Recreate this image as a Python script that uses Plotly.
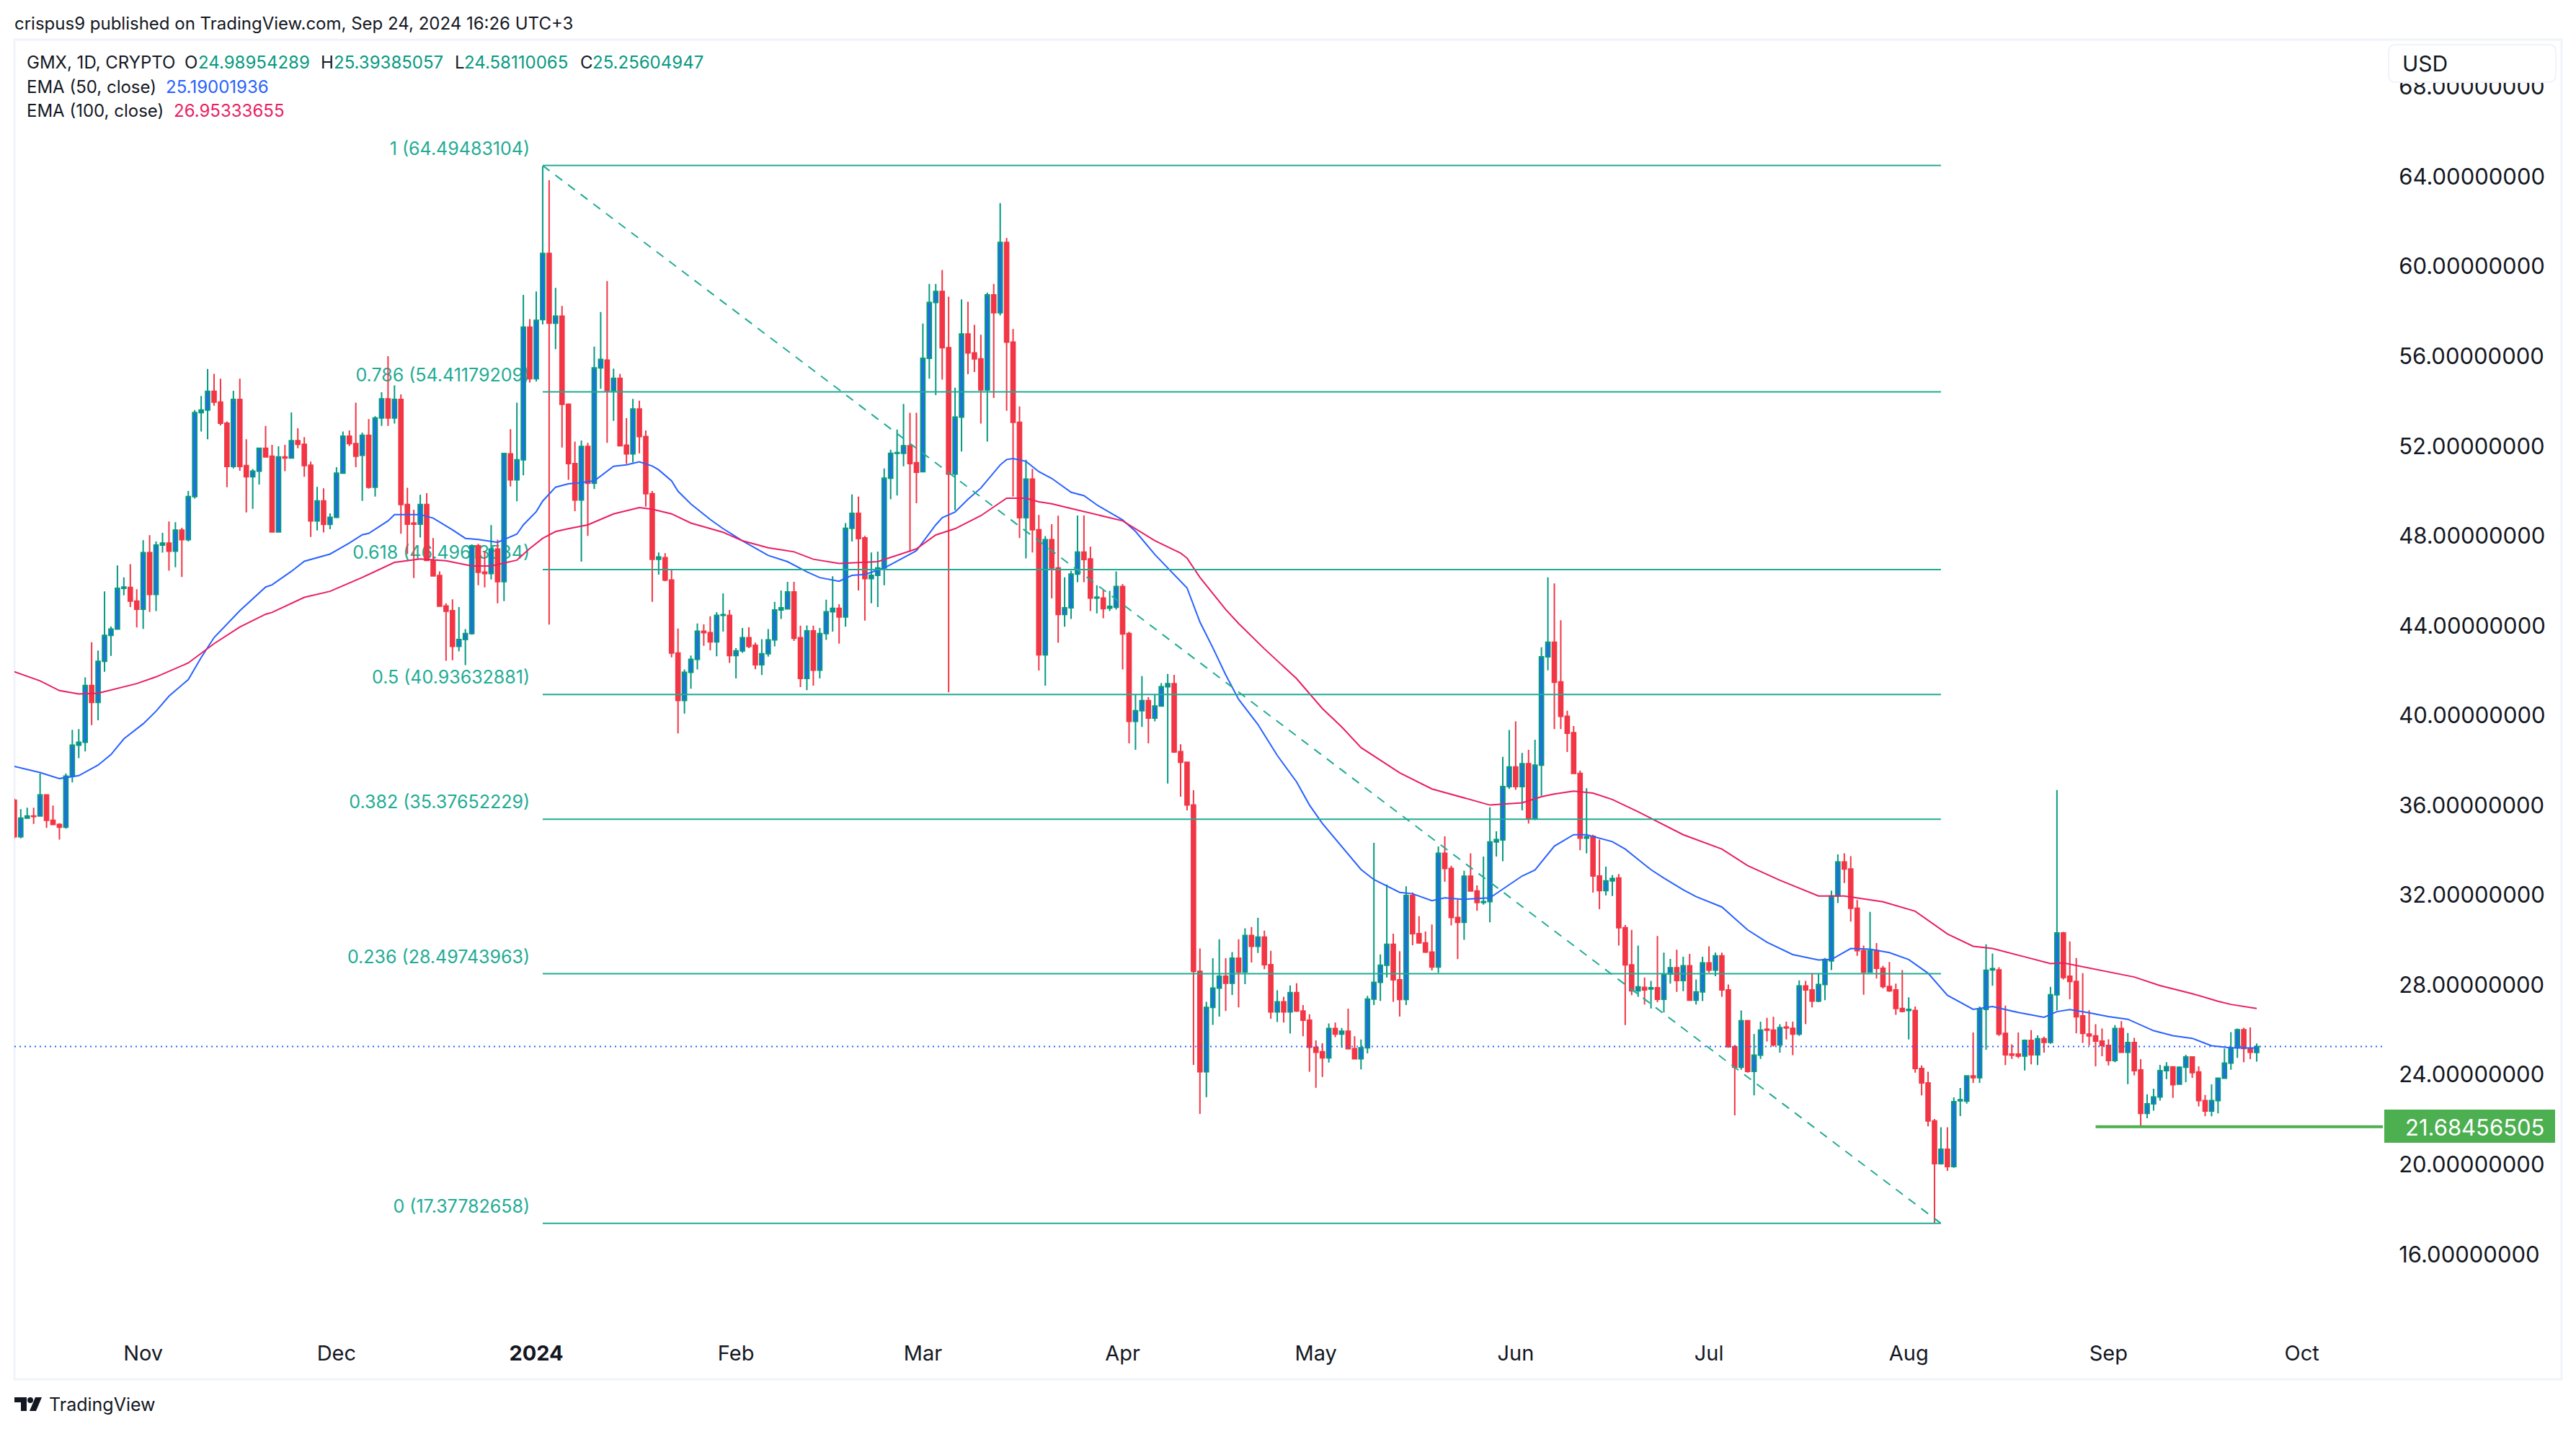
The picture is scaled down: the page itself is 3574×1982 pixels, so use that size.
import pandas as pd
import plotly.graph_objects as go

# Ukuran halaman dan area chart (piksel)
W, H = 3574, 1982
PANE_L, PANE_R, PANE_T, PANE_B = 20, 3306, 55, 1840
FONT = "Inter"
INK = "#131722"

# Candles, one per day from 2023-10-12 to 2024-09-24
first_day = "2023-10-12"
open_ = [
    36.22, 34.60, 35.43, 35.52, 35.52, 36.46, 35.33, 35.15, 35.03, 37.30,
    38.68, 38.81, 41.34, 40.58, 42.41, 43.57, 43.85, 45.66, 45.70, 45.09,
    44.73, 47.25, 45.39, 47.59, 47.68, 47.32, 48.26, 47.83, 49.75, 53.49,
    53.60, 54.44, 53.96, 53.02, 51.09, 54.08, 51.13, 50.63, 50.88, 51.90,
    51.55, 48.18, 51.52, 51.47, 52.24, 52.08, 51.15, 48.67, 49.56, 48.51,
    48.83, 50.79, 52.44, 52.11, 51.59, 52.48, 50.17, 53.25, 54.10, 53.25,
    54.08, 49.40, 48.57, 48.52, 49.40, 46.91, 46.23, 44.88, 44.67, 43.08,
    43.38, 43.65, 47.56, 46.39, 46.32, 47.41, 45.96, 51.65, 50.50, 51.39,
    57.30, 55.00, 57.63, 60.58, 57.47, 57.79, 53.86, 51.22, 49.60, 51.98,
    50.34, 55.48, 55.83, 54.47, 55.02, 52.04, 51.65, 53.65, 52.42, 49.88,
    46.96, 47.03, 46.03, 42.78, 40.67, 41.92, 42.50, 43.75, 43.69, 43.28,
    44.46, 44.46, 42.67, 42.88, 43.46, 43.13, 42.26, 42.75, 43.37, 44.70,
    44.75, 45.50, 43.46, 41.65, 43.77, 42.02, 43.65, 44.62, 44.77, 44.39,
    48.34, 49.00, 47.91, 46.10, 46.24, 46.57, 50.57, 51.68, 51.68, 52.01,
    51.26, 50.86, 55.91, 58.40, 58.89, 56.38, 50.75, 53.29, 56.99, 56.15,
    55.88, 54.50, 58.73, 57.94, 61.07, 56.63, 53.06, 48.81, 50.53, 48.27,
    42.70, 47.83, 46.57, 44.50, 44.80, 46.30, 47.28, 46.97, 45.23, 45.23,
    44.78, 44.82, 45.74, 43.65, 39.74, 40.21, 40.66, 39.88, 40.42, 41.28,
    41.42, 38.39, 37.92, 36.01, 28.60, 24.13, 27.00, 27.86, 28.39, 28.07,
    29.19, 28.58, 30.20, 29.72, 30.13, 28.90, 26.80, 27.25, 26.80, 27.66,
    26.84, 26.43, 25.22, 25.02, 24.75, 26.06, 25.81, 25.94, 25.16, 24.71,
    25.20, 27.37, 28.11, 28.88, 29.81, 28.23, 27.35, 31.98, 30.28, 29.87,
    29.46, 28.80, 33.86, 33.19, 31.00, 30.79, 32.84, 32.18, 31.67, 31.71,
    34.37, 34.46, 36.83, 37.71, 36.83, 37.85, 35.40, 37.79, 42.61, 43.26,
    41.50, 39.96, 39.23, 37.42, 34.54, 34.62, 32.85, 32.20, 32.63, 32.76,
    30.55, 28.89, 27.74, 27.89, 27.82, 27.87, 27.36, 28.48, 28.76, 28.19,
    28.85, 27.32, 27.69, 28.98, 28.66, 29.29, 27.78, 25.25, 24.33, 26.40,
    24.15, 24.87, 26.03, 25.99, 25.33, 26.12, 26.07, 25.81, 27.95, 27.78,
    27.28, 28.02, 29.07, 31.96, 33.48, 33.16, 31.41, 29.53, 28.57, 29.53,
    28.74, 27.93, 27.78, 26.95, 26.86, 26.86, 24.28, 23.63, 21.94, 20.04,
    20.68, 19.91, 22.84, 22.82, 23.95, 23.87, 26.91, 28.67, 28.67, 25.84,
    24.92, 24.92, 24.83, 25.53, 24.89, 25.60, 25.44, 27.56, 30.31, 28.39,
    28.15, 26.62, 25.81, 25.73, 25.50, 25.30, 24.63, 26.06, 25.00, 25.43,
    24.21, 22.28, 22.70, 23.01, 24.18, 24.35, 23.58, 24.33, 24.79, 24.12,
    22.85, 22.38, 22.85, 23.84, 24.52, 25.20, 26.00, 25.17, 24.99,
]
high = [
    36.30, 35.83, 35.89, 35.89, 37.42, 36.46, 35.99, 35.20, 37.42, 39.36,
    39.39, 41.70, 43.26, 42.89, 45.53, 43.96, 46.68, 46.15, 46.74, 45.62,
    47.81, 48.03, 47.75, 48.14, 48.64, 48.61, 48.36, 50.00, 53.60, 54.23,
    55.43, 55.22, 55.00, 53.10, 54.46, 55.00, 52.30, 50.98, 51.90, 52.90,
    52.05, 51.99, 52.05, 53.50, 52.79, 52.40, 51.31, 50.18, 50.12, 49.00,
    51.06, 52.65, 52.70, 53.93, 52.60, 53.20, 53.33, 54.40, 56.00, 54.70,
    54.30, 50.14, 49.16, 49.83, 49.90, 47.90, 46.42, 45.00, 45.17, 44.83,
    43.85, 47.62, 47.65, 47.30, 48.48, 47.83, 51.70, 52.75, 53.93, 58.73,
    57.66, 58.89, 64.46, 63.84, 59.05, 58.24, 53.90, 52.20, 52.25, 52.14,
    56.43, 57.97, 59.35, 55.45, 55.22, 53.24, 54.10, 54.02, 52.70, 50.00,
    47.26, 47.23, 46.50, 43.87, 42.05, 42.67, 44.10, 44.06, 44.42, 44.60,
    45.44, 44.70, 43.00, 43.90, 43.93, 43.25, 43.40, 43.85, 45.06, 45.57,
    45.95, 45.95, 44.00, 44.01, 44.00, 43.90, 45.16, 46.20, 44.96, 48.57,
    49.85, 49.75, 48.00, 47.26, 47.30, 51.00, 51.84, 52.74, 53.88, 53.48,
    53.48, 57.46, 59.22, 59.22, 59.84, 58.65, 54.60, 58.53, 58.43, 57.40,
    56.96, 58.84, 59.22, 62.82, 61.27, 57.22, 53.76, 51.39, 50.99, 48.93,
    47.99, 48.52, 48.90, 46.15, 46.44, 48.91, 48.91, 47.52, 45.80, 45.60,
    45.55, 46.42, 45.86, 43.73, 40.93, 41.75, 40.82, 40.93, 41.44, 41.85,
    41.81, 38.72, 37.92, 36.67, 29.62, 27.25, 29.19, 30.03, 29.19, 29.46,
    30.03, 30.52, 30.58, 30.99, 30.42, 29.52, 27.76, 27.47, 27.98, 28.07,
    27.10, 26.69, 25.53, 25.40, 26.28, 26.32, 26.08, 26.94, 25.71, 25.57,
    27.51, 34.33, 29.36, 32.47, 30.28, 29.50, 32.39, 32.12, 31.06, 30.38,
    30.69, 34.17, 34.62, 33.31, 31.81, 33.08, 33.86, 32.43, 33.72, 35.91,
    34.84, 38.16, 39.35, 39.74, 38.33, 38.47, 38.92, 43.04, 46.15, 45.88,
    44.24, 40.21, 39.53, 37.55, 36.76, 34.69, 34.47, 33.27, 32.89, 32.94,
    30.67, 30.45, 29.75, 28.33, 28.18, 30.18, 29.44, 29.16, 29.57, 29.25,
    29.38, 28.24, 29.25, 29.72, 29.44, 29.44, 28.02, 25.33, 26.86, 26.40,
    25.81, 26.36, 26.53, 26.58, 26.25, 26.36, 26.36, 28.20, 28.18, 28.52,
    28.52, 29.20, 32.20, 33.81, 33.86, 33.73, 31.78, 29.75, 31.25, 29.86,
    28.85, 29.02, 28.06, 28.66, 27.45, 27.04, 24.41, 24.13, 22.03, 21.66,
    21.66, 22.99, 23.41, 23.96, 25.88, 27.04, 29.81, 29.40, 28.79, 27.08,
    25.35, 25.88, 25.57, 25.99, 25.75, 25.70, 27.91, 36.68, 30.36, 29.94,
    29.20, 28.52, 26.87, 26.25, 26.06, 25.58, 26.21, 26.39, 25.86, 25.64,
    24.69, 23.13, 23.38, 24.44, 24.56, 24.37, 24.37, 24.89, 24.82, 24.37,
    23.10, 23.57, 23.87, 25.17, 25.90, 26.06, 26.09, 26.11, 25.39,
]
low = [
    34.53, 34.53, 35.40, 35.17, 35.50, 34.99, 35.12, 34.47, 34.96, 37.02,
    38.10, 38.40, 39.57, 39.79, 41.95, 42.65, 43.85, 45.35, 44.83, 43.92,
    43.86, 44.61, 44.65, 47.25, 46.45, 46.60, 46.17, 47.75, 49.66, 52.65,
    52.30, 53.80, 52.92, 50.17, 51.00, 50.90, 49.04, 49.20, 50.29, 51.50,
    48.15, 48.15, 50.88, 51.45, 51.90, 50.63, 47.95, 48.24, 48.15, 48.30,
    48.79, 50.77, 52.00, 51.06, 49.56, 50.10, 49.75, 52.90, 52.90, 53.00,
    48.10, 47.19, 46.12, 47.93, 46.90, 46.20, 44.85, 42.44, 42.46, 42.85,
    42.24, 43.60, 45.80, 45.70, 46.06, 45.00, 45.09, 50.20, 49.54, 50.70,
    54.83, 54.88, 57.42, 44.05, 56.32, 51.93, 50.50, 49.10, 46.85, 48.00,
    50.09, 54.55, 52.14, 53.12, 51.98, 51.20, 51.27, 51.68, 49.30, 45.06,
    46.27, 45.98, 42.59, 39.20, 40.08, 41.19, 42.05, 43.10, 42.90, 42.64,
    43.74, 42.34, 41.65, 42.79, 43.00, 42.06, 41.80, 42.62, 43.08, 44.30,
    44.75, 43.32, 41.26, 41.13, 41.33, 41.65, 43.37, 43.74, 43.20, 43.95,
    47.75, 45.57, 44.23, 45.00, 44.83, 45.80, 49.63, 49.80, 51.10, 47.29,
    49.45, 50.86, 55.00, 54.27, 54.96, 41.03, 49.14, 51.76, 55.20, 55.30,
    53.00, 52.20, 54.14, 57.82, 53.57, 49.75, 47.90, 47.00, 47.26, 42.00,
    41.33, 45.21, 43.24, 43.95, 44.30, 45.94, 45.94, 44.65, 44.55, 44.33,
    44.65, 44.72, 42.05, 38.76, 38.47, 39.49, 38.76, 39.74, 40.42, 36.97,
    38.33, 36.38, 35.77, 24.44, 22.25, 23.00, 26.22, 26.59, 26.84, 27.55,
    27.00, 28.03, 29.00, 29.42, 28.70, 26.49, 26.35, 26.32, 25.83, 26.80,
    25.71, 24.13, 23.42, 23.90, 24.54, 25.67, 25.20, 25.12, 24.71, 24.24,
    24.95, 27.10, 27.29, 28.33, 27.25, 26.59, 27.10, 29.77, 29.83, 29.42,
    28.64, 28.54, 32.59, 30.65, 29.15, 30.01, 32.16, 31.30, 31.57, 30.79,
    33.72, 33.51, 36.73, 36.69, 35.77, 35.19, 35.34, 36.42, 42.01, 39.39,
    39.39, 38.37, 37.40, 34.00, 33.86, 32.11, 31.37, 31.98, 31.96, 29.75,
    26.21, 27.54, 27.47, 27.13, 26.95, 27.23, 26.77, 28.06, 27.69, 27.72,
    27.32, 27.13, 27.28, 28.55, 28.39, 27.47, 25.20, 22.19, 24.22, 24.09,
    23.08, 24.70, 25.48, 25.25, 24.98, 25.57, 24.87, 25.73, 26.25, 27.00,
    27.23, 27.32, 28.66, 31.65, 32.54, 30.82, 29.29, 27.56, 28.57, 28.28,
    27.84, 27.69, 26.67, 26.77, 25.57, 24.09, 23.08, 21.70, 17.40, 20.00,
    19.72, 19.85, 22.16, 22.71, 23.63, 23.63, 25.11, 27.96, 25.73, 24.43,
    24.70, 24.74, 24.19, 24.46, 24.43, 24.98, 25.38, 26.86, 28.24, 27.36,
    25.84, 25.42, 25.30, 24.37, 24.82, 24.41, 24.56, 25.00, 23.58, 23.97,
    21.71, 22.06, 22.40, 22.85, 23.80, 22.97, 23.58, 23.67, 23.86, 22.59,
    22.15, 22.15, 22.28, 23.84, 24.22, 24.75, 24.56, 24.69, 24.58,
]
close = [
    34.60, 35.43, 35.52, 35.50, 36.46, 35.33, 35.15, 35.03, 37.30, 38.68,
    38.81, 41.34, 40.58, 42.41, 43.57, 43.85, 45.66, 45.72, 45.09, 44.73,
    47.25, 45.39, 47.59, 47.68, 47.32, 48.26, 47.83, 49.75, 53.49, 53.60,
    54.44, 53.96, 53.02, 51.09, 54.08, 51.09, 50.63, 50.88, 51.90, 51.52,
    48.18, 51.52, 51.47, 52.24, 52.08, 51.13, 48.67, 49.56, 48.51, 48.83,
    50.79, 52.44, 52.11, 51.55, 52.48, 50.17, 53.25, 54.10, 53.25, 54.08,
    49.40, 48.52, 48.52, 49.40, 46.91, 46.22, 44.87, 44.64, 43.08, 43.38,
    43.65, 47.56, 46.38, 46.32, 47.41, 45.96, 51.67, 50.50, 51.39, 57.30,
    55.00, 57.60, 60.58, 57.47, 57.79, 53.86, 51.22, 49.60, 51.98, 50.34,
    55.48, 55.86, 54.47, 55.02, 52.01, 51.65, 53.65, 52.42, 49.88, 46.96,
    47.06, 46.03, 42.78, 40.67, 41.92, 42.50, 43.75, 43.69, 43.28, 44.46,
    44.49, 42.67, 42.88, 43.46, 43.08, 42.26, 42.75, 43.37, 44.70, 44.80,
    45.50, 43.44, 41.65, 43.77, 42.02, 43.65, 44.62, 44.77, 44.39, 48.34,
    49.00, 47.88, 46.10, 46.24, 46.57, 50.57, 51.68, 51.71, 52.01, 51.22,
    50.83, 55.91, 58.40, 58.89, 56.38, 50.75, 53.29, 56.99, 56.15, 55.88,
    54.50, 58.73, 57.94, 61.07, 56.63, 53.06, 48.81, 50.53, 48.27, 42.70,
    47.83, 46.57, 44.50, 44.80, 46.30, 47.28, 46.95, 45.23, 45.27, 44.76,
    44.86, 45.74, 43.63, 39.74, 40.21, 40.66, 39.88, 40.42, 41.28, 41.42,
    38.37, 37.92, 36.01, 28.60, 24.13, 27.00, 27.86, 28.39, 28.07, 29.19,
    28.58, 30.20, 29.72, 30.13, 28.90, 26.80, 27.25, 26.80, 27.66, 26.84,
    26.43, 25.22, 25.00, 24.75, 26.06, 25.81, 25.94, 25.16, 24.71, 25.20,
    27.37, 28.11, 28.88, 29.81, 28.23, 27.35, 31.98, 30.28, 29.87, 29.46,
    28.80, 33.86, 33.19, 31.00, 30.79, 32.84, 32.18, 31.67, 31.71, 34.37,
    34.47, 36.83, 37.71, 36.83, 37.85, 35.40, 37.79, 42.61, 43.26, 41.48,
    39.96, 39.21, 37.42, 34.54, 34.60, 32.85, 32.20, 32.63, 32.74, 30.55,
    28.89, 27.74, 27.91, 27.78, 27.87, 27.36, 28.48, 28.76, 28.19, 28.85,
    27.32, 27.69, 28.98, 28.66, 29.29, 27.78, 25.25, 24.33, 26.40, 24.15,
    24.87, 25.99, 25.99, 25.33, 26.10, 26.08, 25.81, 27.95, 27.78, 27.28,
    28.02, 29.13, 31.96, 33.48, 33.16, 31.41, 29.53, 28.57, 29.53, 28.74,
    27.93, 27.74, 26.95, 26.82, 26.91, 24.28, 23.63, 21.94, 20.04, 20.68,
    19.91, 22.80, 22.89, 23.95, 23.87, 26.91, 28.65, 28.72, 25.81, 24.89,
    24.87, 24.83, 25.53, 24.89, 25.60, 25.44, 27.56, 30.31, 28.33, 28.15,
    26.58, 25.84, 25.73, 25.50, 25.30, 24.63, 26.06, 25.00, 25.43, 24.18,
    22.28, 22.70, 23.01, 24.18, 24.36, 23.55, 24.33, 24.79, 24.09, 22.85,
    22.38, 22.85, 23.84, 24.52, 25.20, 26.00, 25.17, 25.00, 25.256,
]

# EMA lines, read at day numbers counted from 2024-01-01
ema50_day = [
    -81, -77, -74, -71, -68, -66, -64, -61, -59, -57, -54, -52, -50, -46, -42, -41, -38, -36,
    -32, -29, -27, -26, -23, -22, -18, -16, -13, -11, -9, -6, -3, -2, 0, 1, 3, 5, 6, 9,
    12, 14, 16, 18, 19, 21, 22, 24, 27, 29, 32, 36, 39, 42, 44, 47, 49, 51, 54, 59,
    62, 63, 65, 67, 69, 72, 73, 74, 76, 78, 80, 83, 85, 87, 91, 93, 96, 98, 101, 103,
    105, 107, 109, 112, 115, 118, 120, 122, 125, 128, 130, 134, 136, 139, 141, 144, 148, 151, 153, 155,
    158, 161, 163, 167, 169, 171, 173, 175, 178, 180, 184, 188, 191, 195, 199, 201, 204, 207, 210, 213,
    216, 219, 223, 226, 230, 234, 236, 238, 241, 244, 247, 251, 254, 257, 260, 263, 265, 267,
]
ema50 = [
    37.73, 37.46, 37.19, 37.32, 37.79, 38.26, 38.96, 39.63, 40.19, 40.86, 41.60, 42.58, 43.47, 44.67, 45.72, 45.82, 46.42, 46.87,
    47.19, 47.68, 48.05, 48.11, 48.67, 48.95, 48.95, 48.79, 48.27, 47.89, 47.84, 47.71, 48.08, 48.49, 49.08, 49.55, 50.17, 50.32, 50.34, 50.45,
    51.10, 51.16, 51.30, 51.11, 50.94, 50.45, 49.99, 49.42, 48.73, 48.32, 47.78, 47.13, 46.85, 46.40, 46.14, 45.98, 46.24, 46.28, 46.57, 47.34,
    48.49, 48.81, 49.06, 49.63, 50.13, 51.16, 51.40, 51.44, 51.32, 50.86, 50.56, 49.94, 49.79, 49.38, 48.71, 48.20, 47.17, 46.56, 45.68, 44.16,
    43.02, 41.81, 40.72, 39.60, 38.22, 37.04, 36.01, 35.19, 34.17, 33.14, 32.69, 32.12, 32.06, 31.75, 31.88, 31.81, 31.88, 32.45, 32.85, 33.12,
    34.18, 34.69, 34.69, 34.38, 34.05, 33.59, 33.13, 32.76, 32.24, 31.93, 31.47, 30.45, 29.90, 29.35, 29.11, 29.13, 29.62, 29.59, 29.44, 29.13,
    28.52, 27.54, 26.91, 27.04, 26.77, 26.56, 26.81, 26.90, 26.76, 26.59, 26.47, 25.96, 25.74, 25.62, 25.29, 25.20, 25.20, 25.19,
]
ema100_day = [
    -81, -77, -74, -71, -68, -65, -62, -59, -54, -50, -46, -42, -41, -36, -32, -27, -22, -18,
    -14, -10, -7, -3, -1, 1, 3, 5, 8, 12, 14, 16, 18, 21, 24, 29, 32, 36, 40, 43,
    47, 53, 59, 62, 65, 69, 73, 76, 78, 80, 83, 85, 91, 96, 100, 101, 103, 107, 109, 113,
    118, 122, 125, 128, 134, 139, 144, 148, 153, 156, 158, 161, 164, 167, 171, 178, 184, 188, 193, 199,
    203, 209, 214, 216, 219, 223, 226, 231, 235, 237, 241, 245, 248, 252, 257, 261, 263, 267,
]
ema100 = [
    41.95, 41.54, 41.11, 40.96, 40.99, 41.20, 41.42, 41.72, 42.34, 43.20, 43.94, 44.51, 44.59, 45.26, 45.53, 46.15, 46.82, 46.97,
    46.89, 46.66, 46.66, 46.92, 47.44, 47.89, 48.19, 48.32, 48.49, 48.98, 49.11, 49.26, 49.19, 48.98, 48.57, 48.16, 47.78, 47.47, 47.29, 46.96,
    46.77, 46.85, 47.42, 48.04, 48.32, 48.90, 49.68, 49.68, 49.52, 49.43, 49.22, 49.08, 48.67, 47.79, 47.23, 47.01, 46.15, 44.72, 44.10, 42.97,
    41.64, 40.31, 39.49, 38.57, 37.45, 36.73, 36.32, 36.01, 36.11, 36.38, 36.50, 36.63, 36.54, 36.26, 35.71, 34.69, 34.05, 33.31, 32.66, 31.96,
    31.96, 31.70, 31.28, 30.88, 30.27, 29.72, 29.62, 29.25, 28.95, 28.98, 28.75, 28.54, 28.35, 27.97, 27.61, 27.27, 27.13, 26.95,
]

# Fibonacci levels and chart labels
fib_ratio = ["1", "0.786", "0.618", "0.5", "0.382", "0.236", "0"]
fib_level = [64.49483104, 54.41179209, 46.49613534, 40.93632881, 35.37652229, 28.49743963, 17.37782658]
fib_start_day, fib_end_day = 1, 218
last_price = 25.25604947
support_price = 21.68456505
support_start_day = 242
y_ticks = [16, 20, 24, 28, 32, 36, 40, 44, 48, 52, 56, 60, 64, 68]
month_ticks = ["2023-11-01", "2023-12-01", "2024-01-01", "2024-02-01", "2024-03-01", "2024-04-01",
               "2024-05-01", "2024-06-01", "2024-07-01", "2024-08-01", "2024-09-01", "2024-10-01"]
month_labels = ["Nov", "Dec", "<b>2024</b>", "Feb", "Mar", "Apr", "May", "Jun", "Jul", "Aug", "Sep", "Oct"]
ohlc_text = [("O", "24.98954289", 256, 275), ("H", "25.39385057", 445, 463),
             ("L", "24.58110065", 631, 644), ("C", "25.25604947", 805, 822)]


def day_to_date(day):
    return pd.Timestamp("2024-01-01") + pd.to_timedelta(day, unit="D")


def px(x):
    return x / W


def py(y):
    return 1 - y / H


def add_text(fig, text, x, y, size=24, color=INK, anchor="left"):
    fig.add_annotation(text=text, x=px(x), y=py(y), xref="paper", yref="paper", showarrow=False,
                       xanchor=anchor, yanchor="middle", font=dict(family=FONT, size=size, color=color))


def build_chart():
    fig = go.Figure()

    # 1. Label Fibonacci (di bawah candle, pada sumbu utama)
    fig.add_trace(go.Scatter(
        x=[day_to_date(-1)] * len(fib_level),
        y=[lvl + 0.68 for lvl in fib_level],
        mode="text",
        text=[f"{r} ({lvl:.8f})" for r, lvl in zip(fib_ratio, fib_level)],
        textposition="middle left",
        textfont=dict(family=FONT, size=25, color="#22AB94"),
        cliponaxis=False,
    ))

    # 2. Candlestick pada sumbu overlay
    fig.add_trace(go.Candlestick(
        x=pd.date_range(first_day, periods=len(close)),
        open=open_, high=high, low=low, close=close,
        increasing=dict(line=dict(color="#089981", width=2), fillcolor="#1E6FE6"),
        decreasing=dict(line=dict(color="#F23645", width=2), fillcolor="#F23645"),
        xaxis="x2", yaxis="y2",
    ))

    # 3. EMA
    fig.add_trace(go.Scatter(x=day_to_date(ema50_day), y=ema50, mode="lines", xaxis="x2", yaxis="y2",
                             line=dict(color="#2962FF", width=2)))
    fig.add_trace(go.Scatter(x=day_to_date(ema100_day), y=ema100, mode="lines", xaxis="x2", yaxis="y2",
                             line=dict(color="#E91E63", width=2)))

    # 4. Garis Fibonacci dan harga
    for lvl in fib_level:
        fig.add_trace(go.Scatter(x=[day_to_date(fib_start_day), day_to_date(fib_end_day)], y=[lvl, lvl],
                                 mode="lines", xaxis="x2", yaxis="y2", line=dict(color="#22AB94", width=2)))
    fig.add_trace(go.Scatter(x=[day_to_date(fib_start_day), day_to_date(fib_end_day)],
                             y=[fib_level[0], fib_level[-1]], mode="lines", xaxis="x2", yaxis="y2",
                             line=dict(color="#22AB94", width=2, dash="12px,10px")))
    x_left = day_to_date((PANE_L - 744) / 8.94)
    x_right = day_to_date((PANE_R - 744) / 8.94)
    fig.add_trace(go.Scatter(x=[x_left, x_right], y=[last_price, last_price], mode="lines", xaxis="x2", yaxis="y2",
                             line=dict(color="#2962FF", width=2, dash="2px,5px")))
    fig.add_trace(go.Scatter(x=[day_to_date(support_start_day), x_right], y=[support_price, support_price],
                             mode="lines", xaxis="x2", yaxis="y2", line=dict(color="#4CAF50", width=4)))

    # 5. Update Layout (Styling)
    y_low = 64 - (PANE_B - 245) / 31.14
    y_high = 64 + (245 - PANE_T) / 31.14
    domain_x = [px(PANE_L), px(PANE_R)]
    domain_y = [py(PANE_B), py(PANE_T)]
    fig.update_layout(
        width=W, height=H,
        margin=dict(l=0, r=0, t=0, b=0),
        autosize=False,
        showlegend=False,
        paper_bgcolor="white", plot_bgcolor="white",
        boxgap=0, boxgroupgap=0.37,
        xaxis=dict(domain=domain_x, range=[x_left, x_right], type="date", showgrid=False, zeroline=False,
                   tickmode="array", tickvals=month_ticks, ticktext=month_labels, ticks="outside", ticklen=11,
                   tickcolor="rgba(0,0,0,0)", tickfont=dict(family=FONT, size=29, color=INK), rangeslider=dict(visible=False)),
        yaxis=dict(domain=domain_y, range=[y_low, y_high], side="right", showgrid=False, zeroline=False,
                   tickmode="array", tickvals=y_ticks, tickformat=".8f", ticks="outside", ticklen=15,
                   tickcolor="rgba(0,0,0,0)", tickfont=dict(family=FONT, size=31, color=INK)),
        xaxis2=dict(overlaying="x", range=[x_left, x_right], type="date", visible=False, rangeslider=dict(visible=False)),
        yaxis2=dict(overlaying="y", range=[y_low, y_high], visible=False),
    )

    # 6. Bingkai, kotak USD, label harga, logo
    fig.add_shape(type="rect", xref="paper", yref="paper", x0=px(20), x1=px(3554), y0=py(1913), y1=py(55),
                  line=dict(color="#F0F3FA", width=3), layer="below")
    r = 10
    usd_path = (f"M {px(3314 + r)} {py(62)} L {px(3546 - r)} {py(62)} Q {px(3546)} {py(62)} {px(3546)} {py(62 + r)} "
                f"L {px(3546)} {py(114 - r)} Q {px(3546)} {py(114)} {px(3546 - r)} {py(114)} "
                f"L {px(3314 + r)} {py(114)} Q {px(3314)} {py(114)} {px(3314)} {py(114 - r)} "
                f"L {px(3314)} {py(62 + r)} Q {px(3314)} {py(62)} {px(3314 + r)} {py(62)} Z")
    fig.add_shape(type="path", path=usd_path, xref="paper", yref="paper", fillcolor="white",
                  line=dict(color="#F0F3FA", width=2), layer="above")
    add_text(fig, "USD", 3331, 88, size=30)
    fig.add_shape(type="rect", xref="paper", yref="paper", x0=px(3308), x1=px(3545), y0=py(1585), y1=py(1539),
                  fillcolor="#4CAF50", line=dict(width=0), layer="above")
    add_text(fig, f"{support_price:.8f}", 3532, 1563, size=31, color="white", anchor="right")

    logo_t = (f"M {px(20)} {py(1938)} L {px(37)} {py(1938)} L {px(37)} {py(1957)} L {px(29)} {py(1957)} "
              f"L {px(29)} {py(1945)} L {px(20)} {py(1945)} Z")
    logo_slash = (f"M {px(49)} {py(1938)} L {px(58)} {py(1938)} L {px(50)} {py(1957)} L {px(41)} {py(1957)} Z")
    fig.add_shape(type="path", path=logo_t, xref="paper", yref="paper", fillcolor=INK, line=dict(width=0))
    fig.add_shape(type="path", path=logo_slash, xref="paper", yref="paper", fillcolor=INK, line=dict(width=0))
    fig.add_shape(type="circle", xref="paper", yref="paper", x0=px(38), x1=px(46), y0=py(1946), y1=py(1938),
                  fillcolor=INK, line=dict(width=0))
    add_text(fig, "TradingView", 66, 1948, size=25)

    # 7. Teks header dan legend
    add_text(fig, "crispus9 published on TradingView.com, Sep 24, 2024 16:26 UTC+3", 18, 32)
    add_text(fig, "GMX, 1D, CRYPTO", 35, 86)
    for name, value, name_x, value_x in ohlc_text:
        add_text(fig, name, name_x - 2, 86)
        add_text(fig, value, value_x - 2, 86, color="#089981")
    add_text(fig, "EMA (50, close)", 35, 120)
    add_text(fig, "25.19001936", 228, 120, color="#2962FF")
    add_text(fig, "EMA (100, close)", 35, 154)
    add_text(fig, "26.95333655", 239, 154, color="#E91E63")

    return fig


fig = build_chart()
fig.write_html("out.html", config=dict(displayModeBar=False),
               post_script="document.body.style.margin='0';document.body.style.overflow='hidden';")
